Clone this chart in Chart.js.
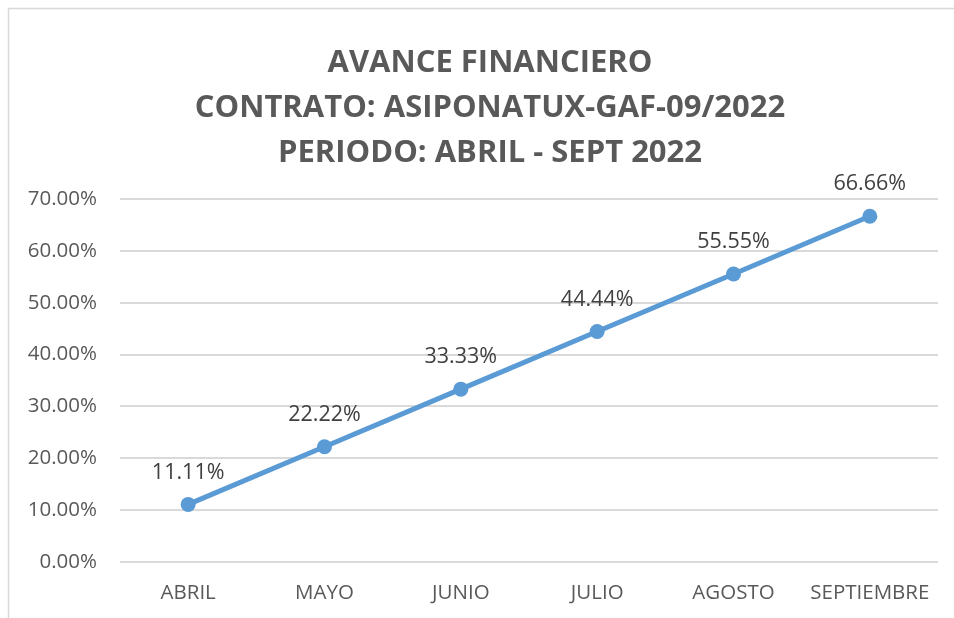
<!DOCTYPE html>
<html>
<head>
<meta charset="utf-8">
<script src="https://cdn.jsdelivr.net/npm/chart.js@4.4.1/dist/chart.umd.min.js"></script>
<style>
  html, body { margin: 0; padding: 0; background: #fff; overflow: hidden; }
  #wrap { position: absolute; left: 0; top: 0; width: 954px; height: 618px; }
  canvas { display: block; width: 954px; height: 618px; }
</style>
</head>
<body>
<div id="wrap"><canvas id="c" width="954" height="618"></canvas></div>
<script>
const categories = ['ABRIL', 'MAYO', 'JUNIO', 'JULIO', 'AGOSTO', 'SEPTIEMBRE'];
const avance = [11.11, 22.22, 33.33, 44.44, 55.55, 66.66];
const titleLines = ['AVANCE FINANCIERO', 'CONTRATO: ASIPONATUX-GAF-09/2022', 'PERIODO: ABRIL - SEPT 2022'];

const FONT = "'Open Sans', sans-serif";

const framePlugin = {
  id: 'frame',
  beforeDraw(chart) {
    const ctx = chart.ctx;
    ctx.save();
    ctx.fillStyle = '#ffffff';
    ctx.fillRect(0, 0, chart.width, chart.height);
    ctx.strokeStyle = '#d9d9d9';
    ctx.lineWidth = 1.5;
    ctx.beginPath();
    ctx.moveTo(8.5, chart.height + 5);
    ctx.lineTo(8.5, 8.5);
    ctx.lineTo(chart.width + 5, 8.5);
    ctx.stroke();
    ctx.restore();
  }
};

const titlePlugin = {
  id: 'bigTitle',
  afterDraw(chart) {
    const ctx = chart.ctx;
    ctx.save();
    ctx.font = "bold 31px " + FONT;
    ctx.fillStyle = '#595959';
    ctx.textAlign = 'center';
    ctx.textBaseline = 'middle';
    const cx = 490;
    const y0 = 63, step = 45;
    titleLines.forEach((t, i) => ctx.fillText(t, cx, y0 + i * step));
    ctx.restore();
  }
};

const labelPlugin = {
  id: 'pointLabels',
  afterDatasetsDraw(chart) {
    const ctx = chart.ctx;
    const meta = chart.getDatasetMeta(0);
    ctx.save();
    ctx.font = "21.5px " + FONT;
    ctx.fillStyle = '#404040';
    ctx.textAlign = 'center';
    ctx.textBaseline = 'middle';
    meta.data.forEach((pt, i) => {
      ctx.fillText(avance[i].toFixed(2) + '%', pt.x, pt.y - 32);
    });
    ctx.restore();
  }
};

new Chart(document.getElementById('c'), {
  type: 'line',
  data: {
    labels: categories,
    datasets: [{
      data: avance,
      borderColor: '#5B9BD5',
      backgroundColor: '#5B9BD5',
      borderWidth: 5,
      pointRadius: 7.5,
      pointHoverRadius: 7.5,
      pointBackgroundColor: '#5B9BD5',
      pointBorderColor: '#5B9BD5',
      pointBorderWidth: 0,
      tension: 0
    }]
  },
  plugins: [framePlugin, titlePlugin, labelPlugin],
  options: {
    responsive: false,
    maintainAspectRatio: false,
    animation: false,
    events: [],
    layout: { padding: { left: 0, right: 16, top: 199, bottom: 0 } },
    plugins: {
      legend: { display: false },
      tooltip: { enabled: false },
      title: { display: false }
    },
    scales: {
      x: {
        offset: true,
        grid: { display: false, drawTicks: false },
        border: { display: false },
        ticks: { color: '#595959', font: { family: FONT, size: 20.5 }, padding: 19, maxRotation: 0, autoSkip: false },
        afterFit(scale) { scale.height = 56; }
      },
      y: {
        min: 0, max: 70,
        grid: { color: '#d9d9d9', lineWidth: 2, drawTicks: false },
        border: { display: false },
        ticks: {
          stepSize: 10,
          color: '#595959',
          font: { family: FONT, size: 20.5 },
          padding: 23,
          callback: v => v.toFixed(2) + '%'
        },
        afterFit(scale) { scale.width = 120; }
      }
    }
  }
});
</script>
</body>
</html>
